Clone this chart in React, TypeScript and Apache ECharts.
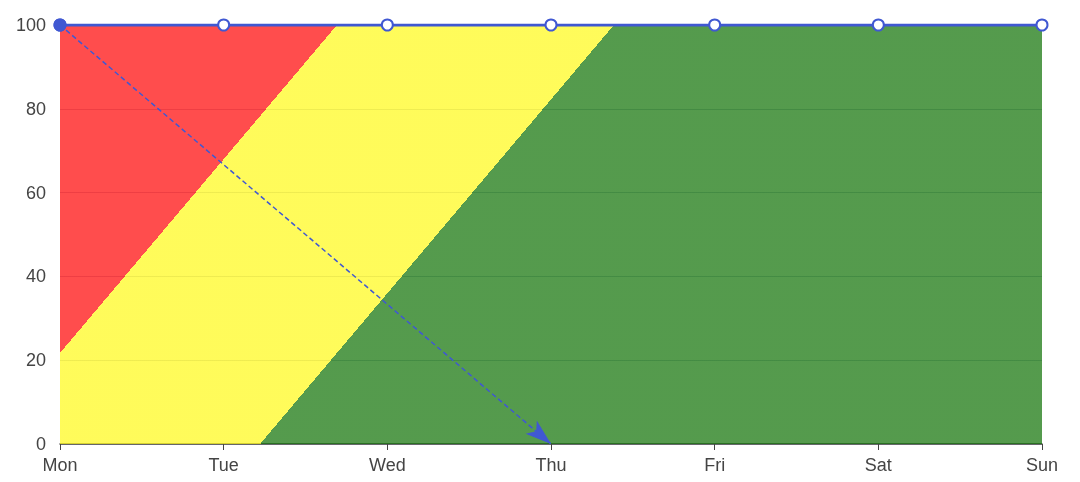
import React, { useEffect, useRef } from "react";
import * as echarts from "echarts";

const categories = ["Mon", "Tue", "Wed", "Thu", "Fri", "Sat", "Sun"];
const values = [100, 100, 100, 100, 100, 100, 100];
const markStart = ["Mon", 100];
const markEnd = ["Thu", 0];
const yTicks = { min: 0, max: 100, interval: 20 };

export default function App() {
  const ref = useRef<HTMLDivElement>(null);
  useEffect(() => {
    if (!ref.current) return;
    const chart = echarts.init(ref.current, null, { renderer: "svg" });
    const lineColor = "#4058d2";
    const font = "Liberation Sans";
    chart.setOption({
      animation: false,
      grid: { left: 60, right: 38, top: 25, bottom: 38 },
      xAxis: {
        type: "category",
        boundaryGap: false,
        data: categories,
        axisLine: { lineStyle: { color: "#444", width: 1.5 } },
        axisTick: { length: 6, lineStyle: { color: "#444" } },
        axisLabel: { fontSize: 18, color: "#444", margin: 12, fontFamily: font },
      },
      yAxis: {
        type: "value",
        min: yTicks.min,
        max: yTicks.max,
        interval: yTicks.interval,
        axisLabel: { fontSize: 18, color: "#444", margin: 14, fontFamily: font },
        splitLine: { lineStyle: { color: "#c8cde0" } },
      },
      series: [
        {
          type: "line",
          data: values,
          symbol: "emptyCircle",
          symbolSize: 11,
          itemStyle: { color: lineColor, borderWidth: 3 },
          lineStyle: { color: lineColor, width: 3 },
          areaStyle: {
            color: new echarts.graphic.LinearGradient(
              60,
              25,
              706.7,
              571,
              [
                { offset: 0, color: "rgba(255,0,0,0.7)" },
                { offset: 0.25, color: "rgba(255,0,0,0.7)" },
                { offset: 0.25, color: "rgba(255,249,19,0.7)" },
                { offset: 0.5, color: "rgba(255,249,19,0.7)" },
                { offset: 0.5, color: "rgba(11,111,0,0.7)" },
                { offset: 1, color: "rgba(11,111,0,0.7)" },
              ],
              true
            ),
            opacity: 1,
          },
          markLine: {
            symbol: ["circle", "arrow"],
            symbolSize: [13, 26],
            label: { show: false },
            lineStyle: { color: lineColor, type: [5, 3], width: 1.5 },
            itemStyle: { color: lineColor },
            data: [[{ coord: markStart }, { coord: markEnd }]],
          },
        },
      ],
    });
    return () => chart.dispose();
  }, []);
  return (
    <div
      ref={ref}
      style={{ position: "fixed", left: 0, top: 0, width: 1080, height: 482 }}
    />
  );
}
